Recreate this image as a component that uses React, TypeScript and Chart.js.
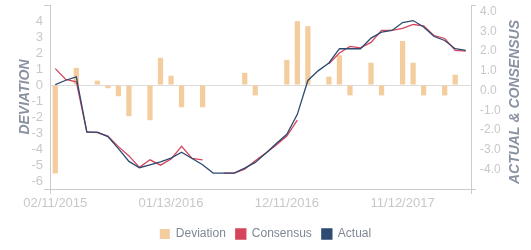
import React, { useEffect, useRef } from 'react';
import { Chart, registerables } from 'chart.js';

Chart.register(...registerables);

const labels = [
  '02/11/2015', '03/11/2015', '04/13/2015', '05/12/2015', '06/11/2015', '07/13/2015', '08/12/2015', '09/11/2015',
  '10/13/2015', '11/12/2015', '12/11/2015', '01/13/2016', '02/11/2016', '03/11/2016', '04/13/2016', '05/12/2016',
  '06/13/2016', '07/12/2016', '08/11/2016', '09/13/2016', '10/12/2016', '11/11/2016', '12/11/2016', '01/12/2017',
  '02/13/2017', '03/13/2017', '04/12/2017', '05/11/2017', '06/12/2017', '07/12/2017', '08/11/2017', '09/12/2017',
  '10/12/2017', '11/12/2017', '12/12/2017', '01/11/2018', '02/12/2018', '03/12/2018', '04/12/2018', '05/11/2018',
];

const deviation = [
  -5.53, null, 1.07, null, 0.27, -0.2, -0.7, -1.95, null, -2.2,
  1.7, 0.58, -1.39, null, -1.39, null, null, null, 0.76, -0.65,
  null, null, 1.57, 3.99, 3.68, null, 0.52, 1.86, -0.65, null,
  1.39, -0.65, null, 2.75, 1.39, -0.65, null, -0.65, 0.64, null,
];

const consensus = [
  1.11, 0.56, 0.44, -2.1, -2.14, -2.31, -2.85, -3.32, -3.9, -3.52,
  -3.79, -3.48, -2.83, -3.45, -3.52, null, -4.19, -4.19, -3.99, -3.57,
  -3.18, -2.76, -2.31, -1.5, null, null, 1.35, 1.9, 2.24, 2.16,
  2.44, 3.05, 3.05, 3.15, 3.35, 3.28, 2.78, 2.64, 2.04, 2.0,
];

const actual = [
  0.3, 0.52, 0.69, -2.11, -2.11, -2.34, -2.95, -3.6, -3.92, -3.77,
  -3.62, -3.43, -3.13, -3.45, -3.77, -4.19, -4.19, -4.19, -3.94, -3.65,
  -3.18, -2.69, -2.22, -1.21, 0.51, 1.01, 1.4, 2.12, 2.12, 2.12,
  2.66, 2.96, 3.05, 3.45, 3.55, 3.22, 2.74, 2.54, 2.12, 2.04,
];

const leftTickValues = [-6, -5, -4, -3, -2, -1, 0, 1, 2, 3, 4];
const rightTickValues = [-4, -3, -2, -1, 0, 1, 2, 3, 4];
const LEFT_MIN = -6.5;
const LEFT_MAX = 5;
const RIGHT_MIN = -5;
const RIGHT_MAX = 4.34;
const LABEL_EVERY = 11;

const FONT = "'Liberation Sans', Arial, Helvetica, sans-serif";
const TICK_COLOR = '#c8c8c8';
const AXIS_COLOR = '#cccccc';
const TITLE_COLOR = '#8a92a2';
const BAR_COLOR = '#f4cd9f';
const CONS_COLOR = '#d6455b';
const ACT_COLOR = '#2d4a70';
const CLEAR = 'rgba(0,0,0,0)';

const rightTitlePlugin = {
  id: 'rightTitle',
  afterDraw(chart: any) {
    const { ctx, chartArea } = chart;
    ctx.save();
    ctx.translate(515, (chartArea.top + chartArea.bottom) / 2 + 5);
    ctx.rotate(-Math.PI / 2);
    ctx.font = `italic bold 14px ${FONT}`;
    ctx.fillStyle = TITLE_COLOR;
    ctx.textAlign = 'center';
    ctx.textBaseline = 'middle';
    ctx.fillText('ACTUAL & CONSENSUS', 0, 0);
    ctx.restore();
  },
};

export default function App() {
  const ref = useRef<HTMLCanvasElement>(null);

  useEffect(() => {
    document.body.style.margin = '0';
    Chart.defaults.font.family = FONT;
    const chart = new Chart(ref.current as HTMLCanvasElement, {
      type: 'bar',
      data: {
        labels,
        datasets: [
          {
            type: 'bar',
            label: 'Deviation',
            data: deviation,
            backgroundColor: BAR_COLOR,
            borderWidth: 0,
            yAxisID: 'y',
            order: 3,
            barPercentage: 0.5,
            categoryPercentage: 1,
          } as any,
          {
            type: 'line',
            label: 'Consensus',
            data: consensus,
            borderColor: CONS_COLOR,
            backgroundColor: CONS_COLOR,
            borderWidth: 1.3,
            pointRadius: 0,
            tension: 0,
            spanGaps: false,
            yAxisID: 'y1',
            order: 2,
          },
          {
            type: 'line',
            label: 'Actual',
            data: actual,
            borderColor: ACT_COLOR,
            backgroundColor: ACT_COLOR,
            borderWidth: 1.3,
            pointRadius: 0,
            tension: 0,
            yAxisID: 'y1',
            order: 1,
          },
        ],
      },
      options: {
        responsive: false,
        animation: false,
        layout: { padding: { top: 5, left: 0, right: 0, bottom: 0 } },
        plugins: {
          tooltip: { enabled: false },
          legend: {
            position: 'bottom',
            labels: {
              boxWidth: 10,
              boxHeight: 10,
              padding: 10,
              color: '#7f8795',
              font: { size: 12, family: FONT },
              sort: (a: any, b: any) => a.datasetIndex - b.datasetIndex,
            },
          },
        },
        scales: {
          x: {
            type: 'category',
            offset: true,
            afterFit: (s: any) => { s.height = 29; },
            grid: {
              display: true,
              drawOnChartArea: false,
              drawTicks: true,
              tickLength: 5,
              offset: true,
              color: (c: any) => (c.type === 'scale' || c.index === 0 ? AXIS_COLOR : CLEAR),
            },
            border: { display: true, color: AXIS_COLOR },
            ticks: {
              autoSkip: false,
              maxRotation: 0,
              padding: 2,
              color: TICK_COLOR,
              font: { size: 13, family: FONT },
              callback: (_v: any, i: number) => (i % LABEL_EVERY === 0 ? labels[i] : ''),
            },
          },
          y: {
            type: 'linear',
            position: 'left',
            min: LEFT_MIN,
            max: LEFT_MAX,
            afterFit: (s: any) => { s.width = 50; s.paddingTop = 0; s.paddingBottom = 0; },
            afterBuildTicks: (s: any) => {
              s.ticks = [LEFT_MIN, ...leftTickValues, LEFT_MAX].map((v) => ({ value: v }));
            },
            grid: {
              display: true,
              drawTicks: true,
              tickLength: 6,
              color: (c: any) => (c.tick && c.tick.value === 0 ? '#dcdcdc' : CLEAR),
              tickColor: (c: any) => (c.tick && (c.tick.value === LEFT_MAX || c.tick.value === LEFT_MIN) ? AXIS_COLOR : CLEAR),
            },
            border: { display: true, color: AXIS_COLOR },
            ticks: {
              autoSkip: false,
              padding: 1,
              color: TICK_COLOR,
              font: { size: 13, family: FONT },
              callback: (v: any) => (leftTickValues.includes(v) ? String(v) : ''),
            },
            title: {
              display: true,
              text: 'DEVIATION',
              color: TITLE_COLOR,
              font: { size: 14, style: 'italic', weight: 'bold', family: FONT },
              padding: { top: 17, bottom: 0 },
            },
          },
          y1: {
            type: 'linear',
            position: 'right',
            min: RIGHT_MIN,
            max: RIGHT_MAX,
            afterFit: (s: any) => { s.width = 60; s.paddingTop = 0; s.paddingBottom = 0; },
            afterBuildTicks: (s: any) => {
              s.ticks = [RIGHT_MIN, ...rightTickValues, RIGHT_MAX].map((v) => ({ value: v }));
            },
            grid: {
              display: true,
              drawOnChartArea: false,
              drawTicks: true,
              tickLength: 5,
              color: CLEAR,
              tickColor: (c: any) => (c.tick && (c.tick.value === RIGHT_MAX || c.tick.value === RIGHT_MIN) ? AXIS_COLOR : CLEAR),
            },
            border: { display: true, color: AXIS_COLOR },
            ticks: {
              autoSkip: false,
              padding: 4,
              color: TICK_COLOR,
              font: { size: 12, family: FONT },
              callback: (v: any) => (rightTickValues.includes(v) ? Number(v).toFixed(1) : ''),
            },
          },
        },
      },
      plugins: [rightTitlePlugin],
    });
    return () => chart.destroy();
  }, []);

  return <canvas ref={ref} width={531} height={250} style={{ display: 'block' }} />;
}
